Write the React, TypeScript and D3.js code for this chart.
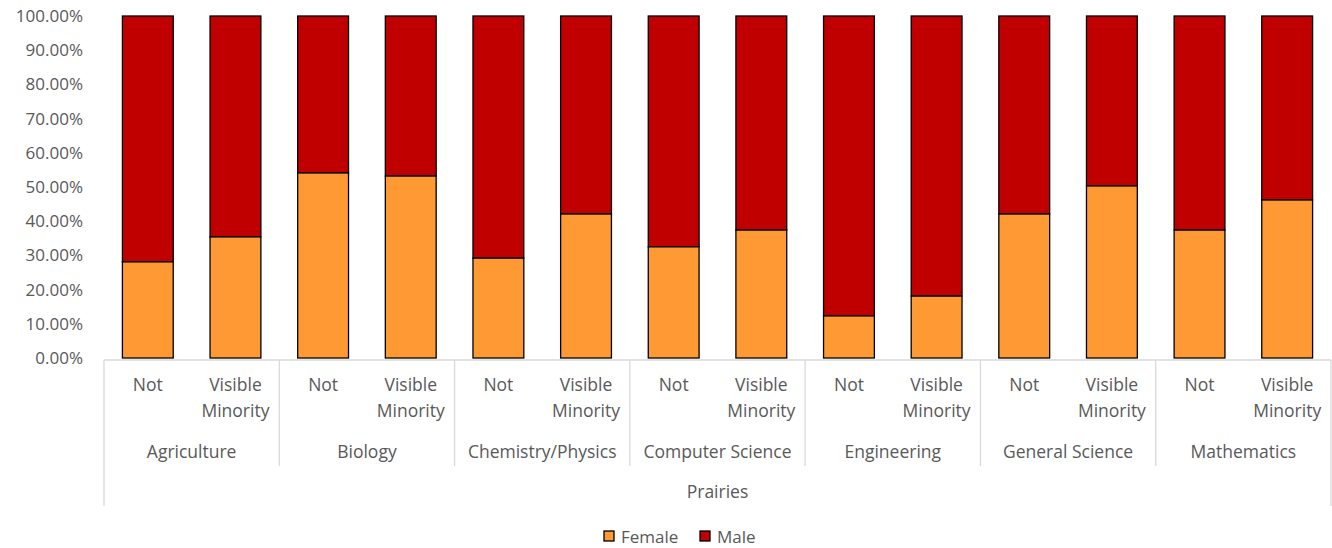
import * as d3 from 'd3';

const groups = ['Agriculture', 'Biology', 'Chemistry/Physics', 'Computer Science', 'Engineering', 'General Science', 'Mathematics'];
const subgroups = ['Not', 'Visible Minority'];
const region = 'Prairies';
// female share, [Not, Visible Minority] per group
const femaleNot = [28.1, 54.1, 29.2, 32.5, 12.3, 42.1, 37.4];
const femaleVisible = [35.4, 53.2, 42.1, 37.4, 18.1, 50.3, 46.2];
const yTicks = [0, 10, 20, 30, 40, 50, 60, 70, 80, 90, 100];
const seriesNames = ['Female', 'Male'];
const colors = ['#FF9933', '#C00000'];

const W = 1332;
const H = 548;
const left = 104;
const right = 1331;
const top = 16;
const bottom = 358;
const font = '"Open Sans", Lato, sans-serif';
const textColor = '#595959';
const lineColor = '#D9D9D9';
const fs = 17.5;

export default function App() {
  const bars = groups.flatMap((g, i) => [
    { key: `${g}|Not`, group: g, sub: subgroups[0], female: femaleNot[i] },
    { key: `${g}|Visible`, group: g, sub: subgroups[1], female: femaleVisible[i] },
  ]);

  const xGroup = d3.scaleBand<string>().domain(groups).range([left, right]);
  const xBar = d3.scaleBand<string>().domain(bars.map(b => b.key)).range([left, right]).paddingInner(0.42).paddingOuter(0.21);
  const y = d3.scaleLinear().domain([0, 100]).range([bottom, top]);

  const axisY = bottom + 2;
  return (
    <svg width={W} height={H} style={{ position: 'absolute', left: 0, top: 0, fontFamily: font }}>
      <rect width={W} height={H} fill="#fff" />
      {yTicks.map(t => (
        <text key={t} x={83} y={y(t)} dy="0.35em" textAnchor="end" fontSize={17} fill={textColor}>
          {t.toFixed(2)}%
        </text>
      ))}
      {bars.map(b => {
        const x = xBar(b.key) || 0;
        const w = xBar.bandwidth();
        return (
          <g key={b.key}>
            <rect x={x} y={y(100)} width={w} height={y(b.female) - y(100)} fill={colors[1]} stroke="#000" strokeWidth={1.3} />
            <rect x={x} y={y(b.female)} width={w} height={y(0) - y(b.female)} fill={colors[0]} stroke="#000" strokeWidth={1.3} />
          </g>
        );
      })}
      {/* category axis box */}
      <line x1={left} x2={right} y1={axisY} y2={axisY} stroke={lineColor} strokeWidth={1.3} />
      <line x1={left} x2={left} y1={axisY} y2={506} stroke={lineColor} strokeWidth={1.3} />
      <line x1={right} x2={right} y1={axisY} y2={506} stroke={lineColor} strokeWidth={1.3} />
      {groups.slice(1).map(g => (
        <line key={g} x1={xGroup(g)} x2={xGroup(g)} y1={axisY} y2={466} stroke={lineColor} strokeWidth={1.3} />
      ))}
      {bars.map(b => {
        const cx = (xBar(b.key) || 0) + xBar.bandwidth() / 2;
        const words = b.sub.split(' ');
        return (
          <text key={b.key} textAnchor="middle" fontSize={fs} fill={textColor}>
            {words.map((w, i) => (
              <tspan key={w} x={cx} y={385 + i * 26} dy="0.35em">{w}</tspan>
            ))}
          </text>
        );
      })}
      {groups.map(g => (
        <text key={g} x={(xGroup(g) || 0) + xGroup.bandwidth() / 2} y={452} dy="0.35em" textAnchor="middle" fontSize={fs} fill={textColor}>
          {g}
        </text>
      ))}
      <text x={(left + right) / 2} y={492} dy="0.35em" textAnchor="middle" fontSize={fs} fill={textColor}>{region}</text>
      {/* legend */}
      {seriesNames.map((s, i) => {
        const lx = i === 0 ? 604 : 700;
        return (
          <g key={s}>
            <rect x={lx} y={531} width={10} height={10} fill={colors[i]} stroke="#000" strokeWidth={1.3} />
            <text x={lx + 17} y={537} dy="0.35em" fontSize={17} fill={textColor}>{s}</text>
          </g>
        );
      })}
    </svg>
  );
}
